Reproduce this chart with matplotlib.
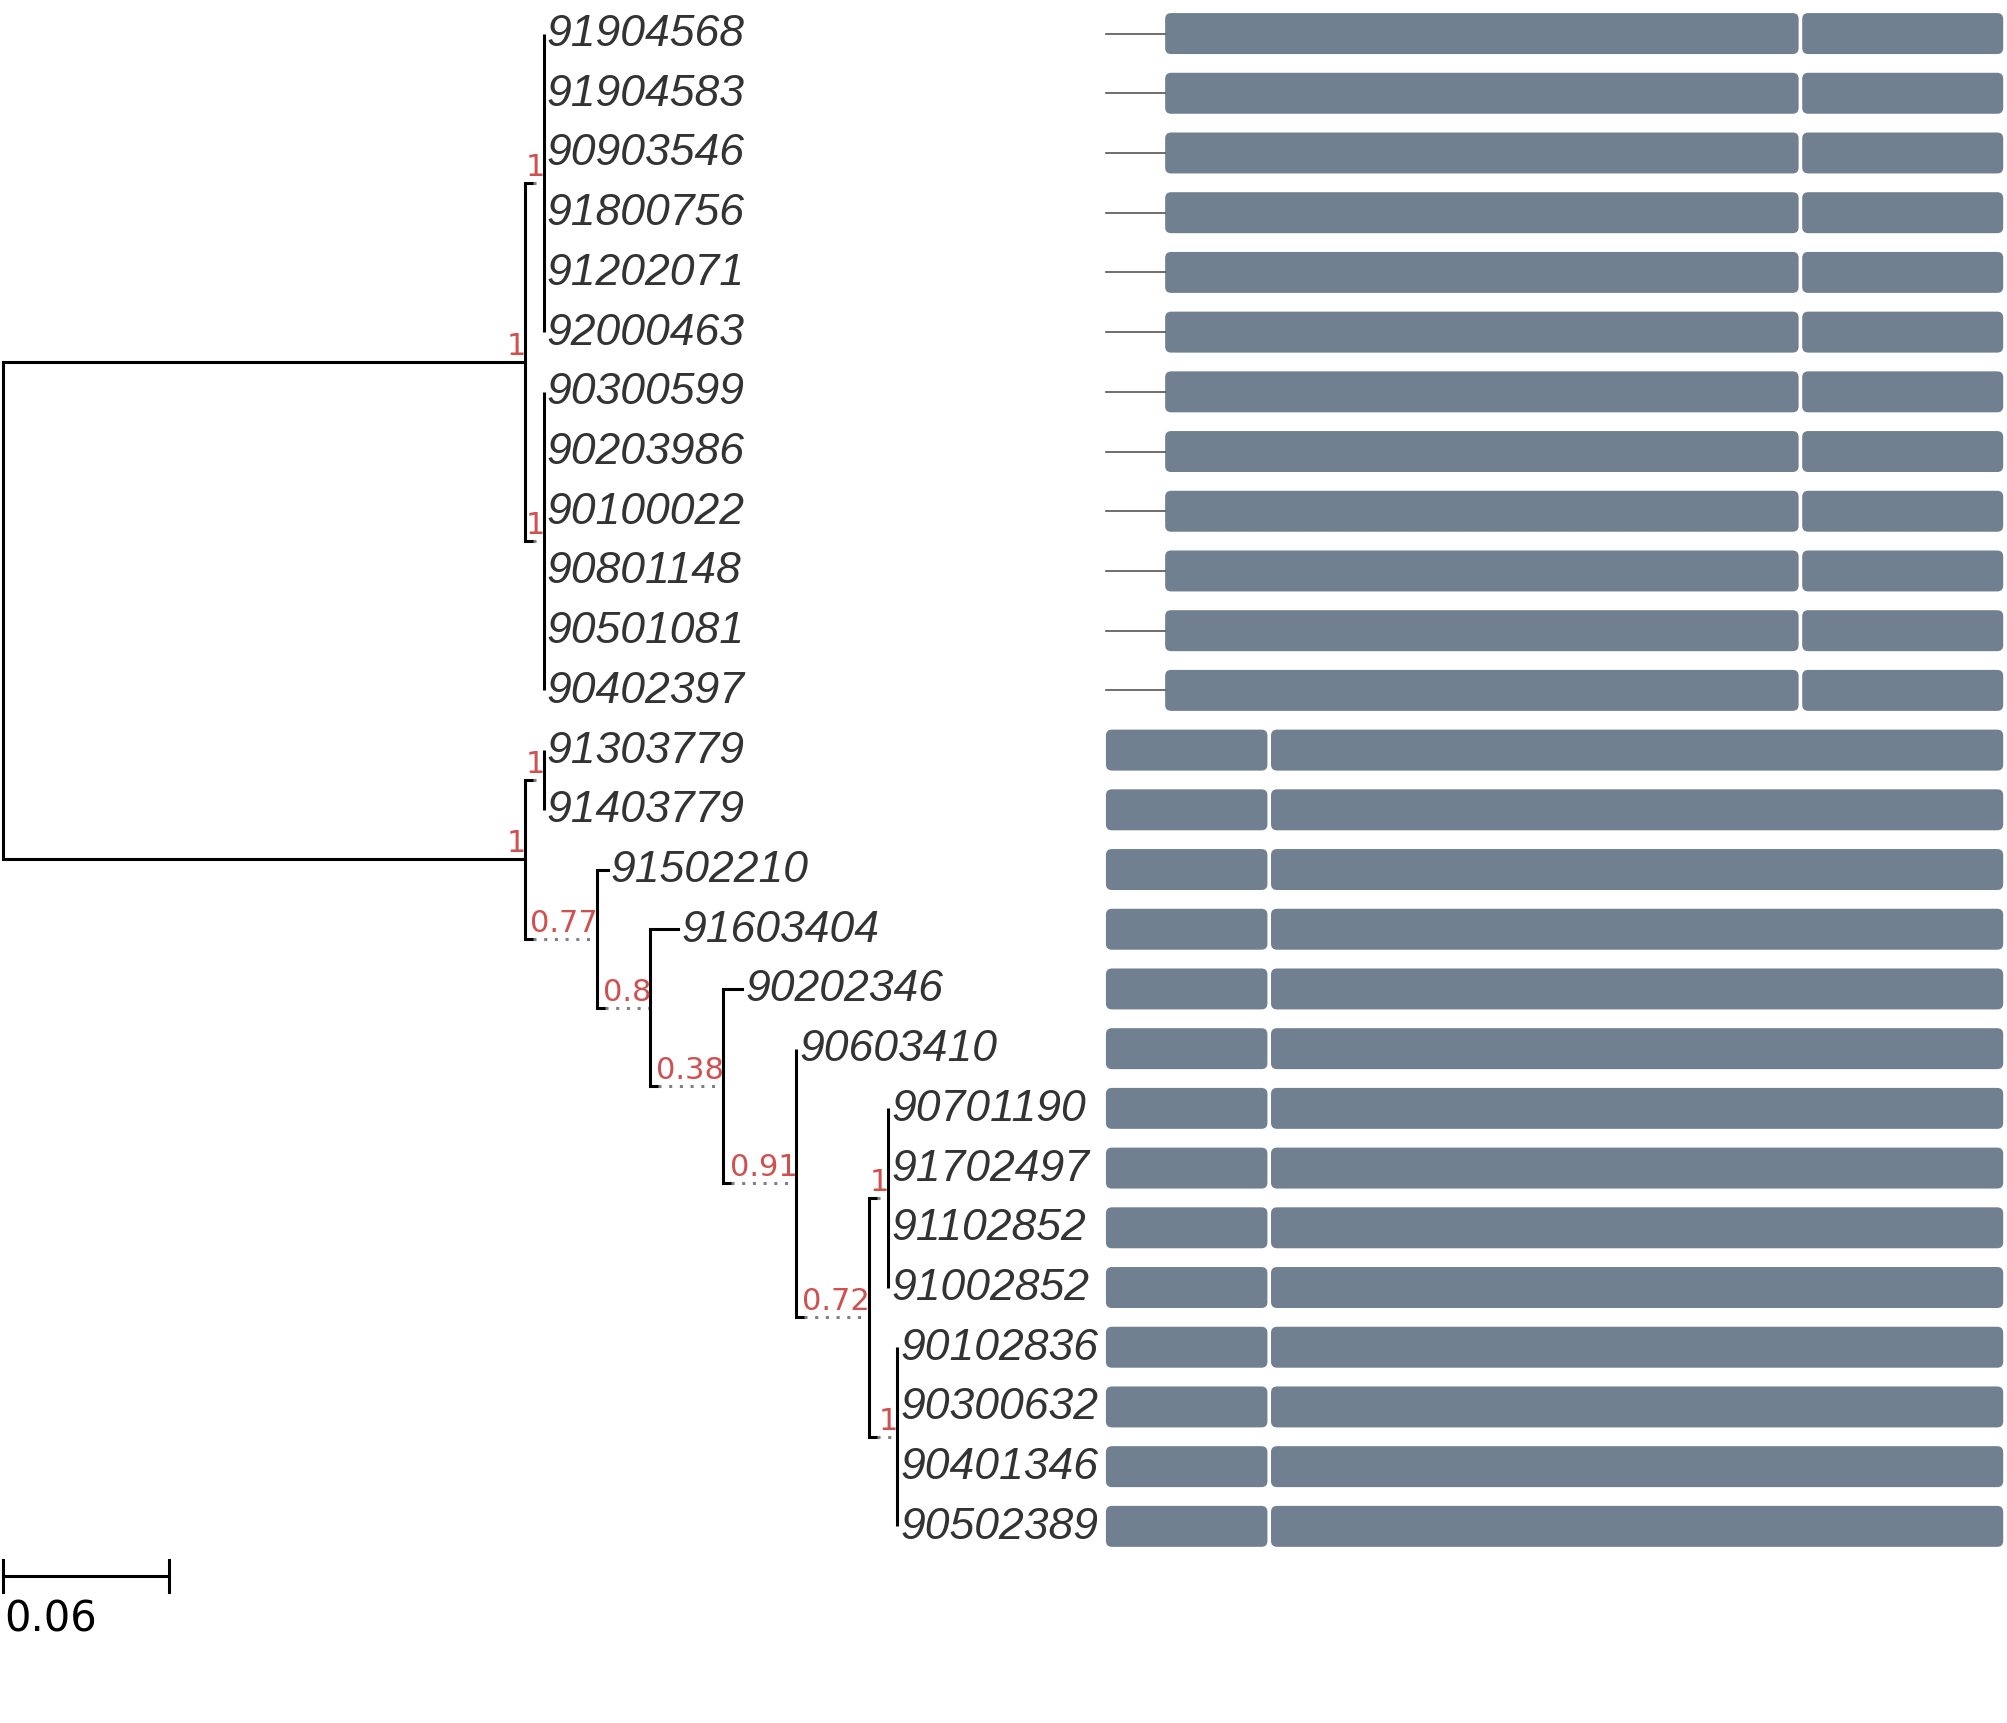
import matplotlib.pyplot as plt
from matplotlib.patches import FancyBboxPatch

# leaves in plot order (top to bottom)
leaves = ['91904568', '91904583', '90903546', '91800756', '91202071', '92000463',
          '90300599', '90203986', '90100022', '90801148', '90501081', '90402397',
          '91303779', '91403779', '91502210', '91603404', '90202346', '90603410',
          '90701190', '91702497', '91102852', '91002852',
          '90102836', '90300632', '90401346', '90502389']
leaf_depth = [0.1952] * 14 + [0.2183, 0.2437, 0.2668, 0.2862] + [0.3194] * 4 + [0.3226] * 4

# internal nodes: name -> (depth, children, support)
nodes = {
    'root': (0.0, ['A', 'B'], None),
    'A': (0.1883, ['A1', 'A2'], '1'),
    'A1': (0.1952, leaves[0:6], '1'),
    'A2': (0.1952, leaves[6:12], '1'),
    'B': (0.1883, ['B1', 'B2'], '1'),
    'B1': (0.1952, leaves[12:14], '1'),
    'B2': (0.2142, [leaves[14], 'B3'], '0.77'),
    'B3': (0.2335, [leaves[15], 'B4'], '0.8'),
    'B4': (0.2598, [leaves[16], 'B5'], '0.38'),
    'B5': (0.2862, [leaves[17], 'B6'], '0.91'),
    'B6': (0.3125, ['B7', 'B8'], '0.72'),
    'B7': (0.3194, leaves[18:22], '1'),
    'B8': (0.3226, leaves[22:26], '1'),
}

# gene tracks (0..1000 track units)
track_a = dict(line=(0, 66), boxes=[(66, 772), (776, 1000)])
track_b = dict(line=None, boxes=[(0, 180), (184, 1000)])
tracks = [track_a] * 12 + [track_b] * 14

S = 1.28
px_per_unit = 130 * S / 0.06
x0 = 2 * S
def tx(d):
    return x0 + d * px_per_unit
row_y = {name: (27 + i * 46.65) * S for i, name in enumerate(leaves)}
depth = dict(zip(leaves, leaf_depth))
for k, v in nodes.items():
    depth[k] = v[0]

def node_y(n):
    if n in row_y:
        return row_y[n]
    ys = [node_y(c) for c in nodes[n][1]]
    return sum(ys) / len(ys)

fig = plt.figure(figsize=(20.07, 17.24), dpi=100)
ax = fig.add_axes([0, 0, 1, 1])
ax.set_xlim(0, 2007)
ax.set_ylim(1724, 0)
ax.axis('off')

lw = 2.2
for n, (d, kids, sup) in nodes.items():
    ys = [node_y(c) for c in kids]
    ax.plot([tx(d), tx(d)], [min(ys), max(ys)], color='black', lw=lw, solid_capstyle='butt')
    for c, yc in zip(kids, ys):
        if c in row_y:
            ax.plot([tx(d), tx(depth[c])], [yc, yc], color='black', lw=lw)
        elif n == 'root':
            ax.plot([tx(d), tx(depth[c])], [yc, yc], color='black', lw=lw)
        else:
            ax.plot([tx(d), tx(d) + 8], [yc, yc], color='black', lw=lw)
            ax.plot([tx(d) + 8, tx(depth[c])], [yc, yc], color='grey', lw=lw, ls=(0, (1, 2.5)))
    if sup is not None:
        ax.text(tx(d) + 1, node_y(n) - 2, sup, color='#d05050', fontsize=22,
                ha='right', va='bottom', family='DejaVu Sans')

for name in leaves:
    ax.text(tx(depth[name]) + 3, row_y[name], name, fontsize=32, style='italic',
            color='#333333', ha='left', va='center', family='Liberation Sans')

# tracks
t0, t1 = 864 * S, 1565 * S
def gx(v):
    return t0 + v / 1000 * (t1 - t0)
bh = 32 * S
for name, tr in zip(leaves, tracks):
    y = row_y[name]
    if tr['line']:
        ax.plot([gx(tr['line'][0]), gx(tr['line'][1])], [y, y], color='#555555', lw=1.2)
    for a, b in tr['boxes']:
        ax.add_patch(FancyBboxPatch((gx(a) + 6, y - bh / 2 + 6), gx(b) - gx(a) - 12, bh - 12,
                                    boxstyle='round,pad=6', fc='#708090', ec='none'))

# scale bar
sb_y = 1232 * S
ax.plot([x0, tx(0.06)], [sb_y, sb_y], color='black', lw=lw)
for xx in (x0, tx(0.06)):
    ax.plot([xx, xx], [sb_y - 16, sb_y + 16], color='black', lw=lw)
ax.text(x0 + 2, sb_y + 22, '0.06', fontsize=30, ha='left', va='top', family='DejaVu Sans')

fig.savefig('out.png', dpi=100)
